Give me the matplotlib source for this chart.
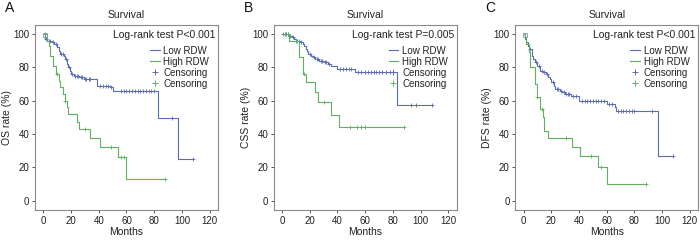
import numpy as np
import matplotlib.pyplot as plt
from matplotlib.lines import Line2D

plt.rcParams['font.family'] = ['Liberation Sans', 'DejaVu Sans']

BLUE = '#5a6cb4'
GREEN = '#5cb35c'

# ---- panel A (OS) ----
a_low_t = [0, 1, 3, 6, 8, 10, 11, 12, 15, 16, 17, 18, 19, 20, 22, 26, 29, 39, 48, 50, 83, 97, 108]
a_low_s = [100, 97, 96, 95, 94, 92, 90, 88, 87, 85, 82, 80, 78, 76, 75, 74, 73, 69, 68, 66, 49.5, 25, 25]
a_low_c = [2, 4, 5, 7, 9, 13, 14, 16.5, 18.5, 21, 23, 24, 25, 27, 28, 30, 31, 33, 34, 41, 43, 45, 47, 49,
           56, 58, 60, 62, 64, 66, 68, 70, 72, 74, 76, 78, 80, 93, 108]
a_high_t = [0, 3, 4, 5, 7, 9, 11, 12, 14, 16, 17, 18, 24, 26, 34, 41, 54, 60, 88]
a_high_s = [100, 96, 93, 87, 81, 76, 72, 68, 64, 60, 56, 52, 47, 43, 37.5, 32, 26, 13, 13]
a_high_c = [1, 10, 16, 30, 49, 56, 58, 88]

# ---- panel B (CSS) ----
b_low_t = [0, 5, 7, 9, 10, 13, 15, 16, 17, 18, 19, 21, 22, 24, 27, 30, 33, 35, 40, 53, 83, 108]
b_low_s = [100, 99, 98, 97, 96, 95, 94, 93, 91, 90, 88, 87, 86, 85, 84, 83, 82, 81, 79, 77, 57.5, 57.5]
b_low_c = [1, 2, 3, 4, 6, 8, 11, 12, 14, 20, 23, 25, 26, 28, 29, 31, 32, 34, 42, 44, 46, 48, 50,
           55, 57, 60, 62, 64, 66, 68, 70, 72, 75, 78, 80, 93, 97, 108]
b_high_t = [0, 5, 12, 15, 17, 24, 26, 35, 41, 88]
b_high_s = [100, 96, 86.5, 76, 71, 65, 59, 51.5, 44.5, 44.5]
b_high_c = [3, 4, 10, 16, 30, 49, 54, 57, 60, 88]

# ---- panel C (DFS) ----
c_low_t = [0, 1, 2, 3, 4, 6, 7, 8, 10, 12, 14, 16, 18, 19, 20, 22, 23, 26, 28, 30, 34, 40, 60, 66, 67, 97, 108]
c_low_s = [100, 97, 95, 93, 91, 87, 85, 83, 81, 78, 77, 76, 74, 73, 71, 69, 67, 66, 65, 64, 63, 60, 58, 56, 54, 27, 27]
c_low_c = [5, 9, 11, 13, 15, 17, 21, 24, 25, 27, 29, 31, 32, 33, 36, 38, 42, 44, 46, 48, 50, 52, 54, 56, 58,
           62, 64, 68, 70, 72, 74, 76, 78, 80, 93, 108]
c_high_t = [0, 1, 2, 4, 5, 8, 10, 12, 14, 15, 18, 35, 41, 54, 60, 88]
c_high_s = [100, 98, 94, 89, 80, 70, 62, 55, 50, 42, 37.5, 32, 27, 20, 10, 10]
c_high_c = [10, 13, 31, 49, 56, 88]

panels = [
    ('A', 'OS rate (%)', 'Log-rank test P<0.001', True,
     (a_low_t, a_low_s, a_low_c), (a_high_t, a_high_s, a_high_c), 0.050),
    ('B', 'CSS rate (%)', 'Log-rank test P=0.005', False,
     (b_low_t, b_low_s, b_low_c), (b_high_t, b_high_s, b_high_c), 0.391),
    ('C', 'DFS rate (%)', 'Log-rank test P<0.001', True,
     (c_low_t, c_low_s, c_low_c), (c_high_t, c_high_s, c_high_c), 0.736),
]


def surv_at(t, s, x):
    i = np.searchsorted(t, x, side='right') - 1
    return np.array(s)[i]


fig = plt.figure(figsize=(7, 2.4), dpi=100)
for letter, ylab, test, square, low, high, left in panels:
    ax = fig.add_axes([left, 0.125, 0.2614, 0.771])
    for (t, s, c), col in ((low, BLUE), (high, GREEN)):
        ax.step(t, s, where='post', color=col, lw=0.8)
        ax.plot(c, surv_at(t, s, c), '+', color=col, ms=3.5, mew=0.6)
    if square:
        ax.plot([1], [99.5], 's', mfc='none', mec='#8899aa', ms=3.5, mew=0.6)
    ax.set_xlim(-6, 126)
    ax.set_ylim(-5.5, 105.5)
    ax.set_xticks(range(0, 121, 20))
    ax.set_yticks(range(0, 101, 20))
    for sp in ax.spines.values():
        sp.set_color('#8a8a8a')
        sp.set_linewidth(0.8)
    ax.tick_params(colors='#333333', labelsize=7, length=2.5, width=0.6, pad=1.5)
    for tl in ax.get_xticklabels() + ax.get_yticklabels():
        tl.set_color('#222222')
    ax.set_xlabel('Months', fontsize=7.5, color='#222222', labelpad=1)
    ax.set_ylabel(ylab, fontsize=7.5, color='#222222', labelpad=1)
    ax.set_title('Survival', fontsize=7.5, color='#222222', pad=5)
    ax.text(0.985, 0.975, test, transform=ax.transAxes, ha='right', va='top',
            fontsize=7.5, color='#222222')
    handles = [Line2D([], [], color=BLUE, lw=0.8),
               Line2D([], [], color=GREEN, lw=0.8),
               Line2D([], [], color=BLUE, marker='+', ls='none', ms=5, mew=0.7),
               Line2D([], [], color=GREEN, marker='+', ls='none', ms=5, mew=0.7)]
    ax.legend(handles, ['Low RDW', 'High RDW', 'Censoring', 'Censoring'],
              loc='upper right', bbox_to_anchor=(0.99, 0.925), frameon=False,
              fontsize=7, handlelength=1.0, handletextpad=0.4, labelspacing=0.1,
              borderpad=0.2, labelcolor='#222222')
    fig.text(left - 0.043, 0.995, letter, fontsize=10, va='top', ha='left', color='#111111')

fig.savefig('out.png', dpi=100)
